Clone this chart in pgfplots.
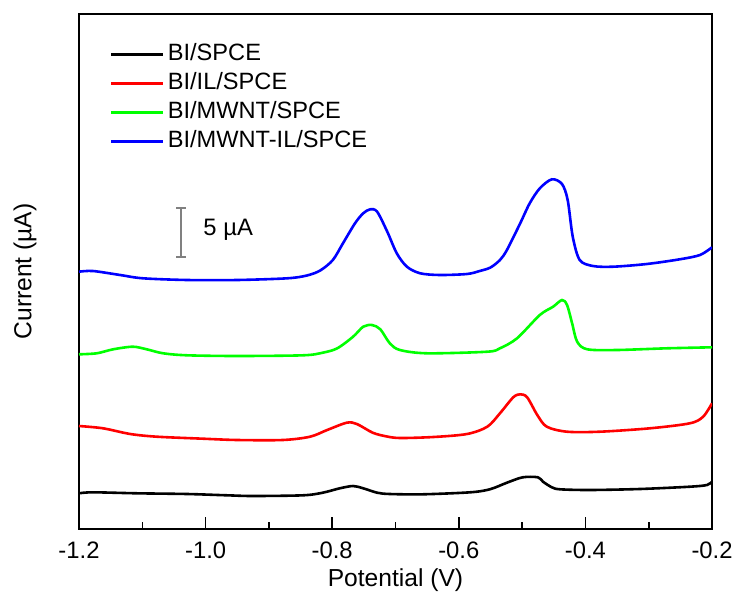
\documentclass[border=0pt]{standalone}
\usepackage{fontspec}
\setmainfont{Liberation Sans}
\usepackage{pgfplots}
\pgfplotsset{compat=1.18}
\begin{document}
\begin{tikzpicture}
\begin{axis}[
  scale only axis,
  width=316.5pt, height=257.5pt,
  xmin=-1.2, xmax=-0.2, ymin=0, ymax=51.5,
  axis line style={line width=1pt},
  font=\fontsize{11.9}{14}\selectfont,
  xtick={-1.2,-1.0,-0.8,-0.6,-0.4,-0.2},
  xticklabels={-1.2,-1.0,-0.8,-0.6,-0.4,-0.2},
  minor x tick num=1,
  xtick pos=bottom,
  tick align=inside,
  major tick length=6pt, minor tick length=3.5pt,
  every tick/.style={black, line width=0.8pt},
  ytick=\empty,
  xticklabel style={anchor=base, yshift=-14.5pt},
  xlabel={Potential (V)},
  ylabel={Current (µA)},
  xlabel style={at={(rel axis cs:0.5,-0.1)}, anchor=center, font=\fontsize{12.3}{14}\selectfont},
  ylabel style={at={(rel axis cs:-0.0853,0.5)}, anchor=center, font=\fontsize{12.3}{14}\selectfont},
  legend style={draw=none, fill=none, inner sep=0pt, at={(rel axis cs:0.048,0.950)}, anchor=north west,
    row sep=0pt, font=\fontsize{11.8}{14.5}\selectfont,
    nodes={text height=8.5pt, text depth=2.5pt, inner sep=1.75pt}},
  legend cell align=left,
  legend image code/.code={\draw[#1, line width=1.3pt] (0pt,0pt) -- (26pt,0pt);},
  every axis plot/.append style={line width=1.3pt, smooth, tension=0.5},
]
\addplot[black] coordinates {
(-1.200,3.57)(-1.178,3.67)(-1.108,3.57)(-1.029,3.50)(-0.966,3.37)(-0.925,3.30)(-0.846,3.37)
(-0.815,3.63)(-0.788,4.07)(-0.767,4.30)(-0.751,4.07)(-0.729,3.63)(-0.709,3.50)(-0.657,3.47)
(-0.582,3.67)(-0.551,3.97)(-0.524,4.63)(-0.499,5.17)(-0.475,5.17)(-0.467,4.73)(-0.453,4.17)
(-0.440,3.97)(-0.393,3.90)(-0.314,4.00)(-0.235,4.23)(-0.208,4.40)(-0.200,4.73)};
\addlegendentry{BI/SPCE}
\addplot[red] coordinates {
(-1.200,10.30)(-1.162,10.07)(-1.119,9.50)(-1.077,9.23)(-1.004,9.03)(-0.950,8.90)(-0.878,8.90)
(-0.835,9.23)(-0.808,9.90)(-0.777,10.63)(-0.761,10.50)(-0.736,9.63)(-0.715,9.27)(-0.693,9.10)
(-0.640,9.20)(-0.587,9.50)(-0.555,10.23)(-0.535,11.57)(-0.514,13.17)(-0.503,13.47)(-0.492,13.17)(-0.476,11.40)
(-0.461,10.23)(-0.429,9.73)(-0.377,9.73)(-0.298,10.07)(-0.235,10.57)(-0.214,11.23)(-0.200,12.57)};
\addlegendentry{BI/IL/SPCE}
\addplot[green] coordinates {
(-1.200,17.47)(-1.172,17.57)(-1.146,17.97)(-1.115,18.23)(-1.093,17.97)(-1.067,17.57)(-1.029,17.37)
(-0.950,17.30)(-0.846,17.37)(-0.815,17.63)(-0.792,18.07)(-0.767,19.23)(-0.751,20.23)(-0.737,20.40)
(-0.724,19.97)(-0.709,18.57)(-0.693,17.90)(-0.650,17.57)(-0.555,17.73)(-0.535,18.07)(-0.508,19.07)
(-0.472,21.40)(-0.451,22.23)(-0.437,22.90)(-0.429,22.40)(-0.421,20.57)(-0.413,18.73)(-0.397,17.97)
(-0.350,17.90)(-0.271,18.07)(-0.200,18.17)};
\addlegendentry{BI/MWNT/SPCE}
\addplot[blue] coordinates {
(-1.200,25.73)(-1.178,25.80)(-1.135,25.40)(-1.099,25.07)(-1.029,24.90)(-0.950,24.90)(-0.871,25.07)
(-0.840,25.35)(-0.819,25.85)(-0.799,26.90)(-0.783,28.57)(-0.764,30.57)(-0.751,31.57)(-0.740,31.97)
(-0.729,31.73)(-0.713,29.73)(-0.698,27.57)(-0.682,26.23)(-0.661,25.57)(-0.630,25.40)(-0.587,25.50)
(-0.567,25.80)(-0.550,26.15)(-0.535,26.90)(-0.524,27.90)(-0.503,30.57)(-0.488,32.57)(-0.472,34.07)
(-0.453,34.97)(-0.437,34.50)(-0.428,32.90)(-0.420,29.23)(-0.409,26.90)(-0.388,26.30)(-0.356,26.23)
(-0.303,26.50)(-0.251,26.97)(-0.219,27.40)(-0.200,28.17)};
\addlegendentry{BI/MWNT-IL/SPCE}
\addplot[gray, line width=0.75pt, sharp plot, mark=-, mark size=2.3pt, mark options={solid, line width=0.75pt}, forget plot]
  coordinates {(-1.0389,27.2)(-1.0389,32.1)};
\node[anchor=west, inner sep=0pt, font=\fontsize{11.9}{14}\selectfont] at (axis cs:-1.004,29.9) {5 µA};
\end{axis}
\pgfresetboundingbox
\path[use as bounding box] ([shift={(-39.5pt,-35.5pt)}]current axis.south west) rectangle ([shift={(10pt,7pt)}]current axis.north east);
\end{tikzpicture}
\end{document}
